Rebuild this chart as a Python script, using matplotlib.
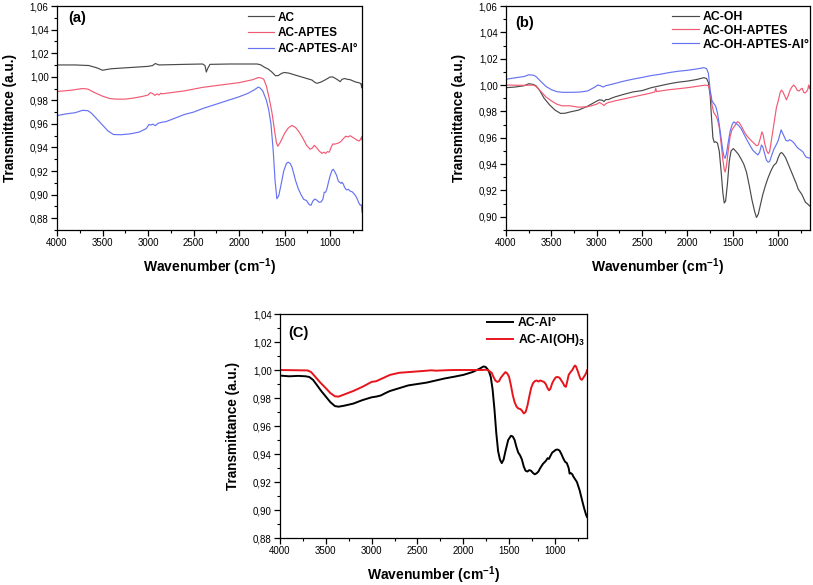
import matplotlib
matplotlib.use("Agg")
import matplotlib.pyplot as plt
from matplotlib.ticker import MultipleLocator, FuncFormatter

plt.rcParams['font.family'] = ['Liberation Sans', 'DejaVu Sans']
plt.rcParams['mathtext.fontset'] = 'custom'
plt.rcParams['mathtext.rm'] = 'Liberation Sans'
plt.rcParams['mathtext.bf'] = 'Liberation Sans:bold'
plt.rcParams['mathtext.it'] = 'Liberation Sans:italic'

# ---------------- Panel (a) ----------------
a_ac_wn = [4000, 3800, 3650, 3560, 3500, 3450, 3400, 3200, 3000, 2950, 2920, 2880, 2600, 2400, 2375,
           2360, 2345, 2320, 2100, 1800, 1760, 1720, 1680, 1640, 1600, 1570, 1530, 1500, 1450, 1400,
           1300, 1200, 1160, 1140, 1100, 1050, 1000, 970, 940, 910, 890, 870, 840, 810, 780, 750, 720,
           690, 670, 660, 652, 650]
a_ac_t = [1.010, 1.010, 1.0095, 1.0075, 1.0055, 1.0062, 1.0068, 1.0078, 1.0088, 1.0095, 1.0112, 1.0100,
          1.0105, 1.0108, 1.0095, 1.0040, 1.0070, 1.0105, 1.0108, 1.0108, 1.0100, 1.0080, 1.0065, 1.0040,
          1.0008, 1.0010, 1.0030, 1.0036, 1.0030, 1.0018, 0.9995, 0.9972, 0.9948, 0.9945, 0.9955, 0.9975,
          0.9998, 0.9998, 0.9985, 0.9970, 0.9958, 0.9978, 0.9985, 0.9978, 0.9975, 0.9965, 0.9955, 0.9950,
          0.9945, 0.9935, 0.9905, 0.9940]

a_apt_wn = [4000, 3850, 3720, 3660, 3600, 3500, 3420, 3350, 3250, 3150, 3050, 3000, 2975, 2950, 2925,
            2900, 2880, 2860, 2840, 2800, 2600, 2400, 2200, 2000, 1850, 1790, 1760, 1730, 1700, 1670,
            1640, 1610, 1590, 1575, 1550, 1500, 1460, 1420, 1380, 1340, 1300, 1260, 1220, 1195, 1175,
            1150, 1120, 1090, 1070, 1050, 1030, 1010, 990, 970, 950, 920, 890, 860, 830, 800, 780, 760,
            740, 720, 700, 680, 665, 655, 650]
a_apt_t = [0.9875, 0.9885, 0.9900, 0.9895, 0.9870, 0.9835, 0.9815, 0.9810, 0.9810, 0.9820, 0.9835,
           0.9845, 0.9865, 0.9858, 0.9842, 0.9855, 0.9845, 0.9860, 0.9855, 0.9860, 0.9880, 0.9910,
           0.9930, 0.9950, 0.9975, 0.9993, 0.9990, 0.9980, 0.9920, 0.9820, 0.9700, 0.9540, 0.9440,
           0.9410, 0.9440, 0.9520, 0.9565, 0.9587, 0.9570, 0.9530, 0.9480, 0.9420, 0.9385, 0.9395,
           0.9418, 0.9400, 0.9370, 0.9350, 0.9360, 0.9350, 0.9365, 0.9360, 0.9400, 0.9430, 0.9428,
           0.9435, 0.9445, 0.9470, 0.9495, 0.9490, 0.9500, 0.9490, 0.9480, 0.9470, 0.9460, 0.9455,
           0.9470, 0.9490, 0.9465]

a_al_wn = [4000, 3900, 3800, 3720, 3660, 3620, 3560, 3500, 3440, 3380, 3300, 3200, 3100, 3020, 2990,
           2970, 2950, 2920, 2890, 2860, 2800, 2700, 2600, 2500, 2400, 2300, 2200, 2100, 2000, 1900,
           1830, 1790, 1770, 1740, 1700, 1675, 1650, 1625, 1605, 1585, 1565, 1540, 1510, 1480, 1460,
           1440, 1420, 1400, 1380, 1350, 1320, 1290, 1260, 1230, 1210, 1190, 1170, 1150, 1120, 1100,
           1080, 1065, 1050, 1035, 1020, 1000, 980, 965, 950, 930, 910, 895, 880, 870, 855, 840, 820,
           800, 780, 760, 740, 720, 700, 685, 670, 660, 655, 650]
a_al_t = [0.9670, 0.9685, 0.9695, 0.9715, 0.9712, 0.9690, 0.9640, 0.9590, 0.9540, 0.9510, 0.9508,
          0.9515, 0.9530, 0.9560, 0.9595, 0.9590, 0.9598, 0.9585, 0.9605, 0.9612, 0.9620, 0.9650,
          0.9680, 0.9700, 0.9730, 0.9755, 0.9780, 0.9805, 0.9830, 0.9860, 0.9890, 0.9912, 0.9905,
          0.9880, 0.9800, 0.9720, 0.9600, 0.9370, 0.9120, 0.8965, 0.8990, 0.9080, 0.9200, 0.9265,
          0.9275, 0.9265, 0.9235, 0.9180, 0.9120, 0.9050, 0.9000, 0.8960, 0.8950, 0.8915, 0.8910,
          0.8945, 0.8962, 0.8955, 0.8935, 0.8938, 0.8960, 0.9020, 0.9020, 0.9050, 0.9100, 0.9160,
          0.9205, 0.9215, 0.9195, 0.9165, 0.9115, 0.9105, 0.9095, 0.9105, 0.9090, 0.9060, 0.9040,
          0.9045, 0.9030, 0.9025, 0.9010, 0.8990, 0.8960, 0.8930, 0.8910, 0.8915, 0.8900, 0.8850]

# ---------------- Panel (b) ----------------
b_oh_wn = [4000, 3900, 3800, 3750, 3700, 3670, 3630, 3580, 3520, 3460, 3400, 3350, 3300, 3200, 3100,
           3000, 2970, 2940, 2920, 2900, 2870, 2840, 2800, 2700, 2600, 2500, 2400, 2300, 2200, 2100,
           2000, 1900, 1820, 1790, 1770, 1750, 1735, 1720, 1705, 1690, 1670, 1650, 1630, 1610, 1595,
           1580, 1560, 1540, 1520, 1495, 1470, 1440, 1410, 1380, 1350, 1320, 1290, 1260, 1240, 1220,
           1200, 1170, 1140, 1110, 1080, 1050, 1020, 1000, 980, 965, 950, 920, 890, 860, 830, 800,
           780, 760, 740, 720, 700, 680, 665, 650]
b_oh_t = [0.9980, 0.9985, 0.9995, 1.0010, 1.0005, 0.9995, 0.9960, 0.9900, 0.9850, 0.9810, 0.9785,
          0.9786, 0.9795, 0.9810, 0.9840, 0.9878, 0.9888, 0.9885, 0.9875, 0.9890, 0.9890, 0.9900,
          0.9910, 0.9930, 0.9948, 0.9958, 0.9980, 0.9995, 1.0010, 1.0022, 1.0030, 1.0042, 1.0056,
          1.0050, 1.0020, 0.9920, 0.9750, 0.9600, 0.9565, 0.9570, 0.9560, 0.9500, 0.9350, 0.9180,
          0.9105, 0.9120, 0.9250, 0.9420, 0.9500, 0.9518, 0.9500, 0.9475, 0.9440, 0.9400, 0.9340,
          0.9240, 0.9130, 0.9040, 0.8995, 0.9020, 0.9080, 0.9170, 0.9240, 0.9300, 0.9350, 0.9390,
          0.9410, 0.9450, 0.9480, 0.9488, 0.9480, 0.9450, 0.9400, 0.9350, 0.9300, 0.9250, 0.9210,
          0.9190, 0.9170, 0.9140, 0.9110, 0.9100, 0.9090, 0.9080]

b_apt_wn = [4000, 3800, 3700, 3670, 3620, 3560, 3500, 3440, 3380, 3300, 3200, 3100, 3000, 2970, 2950,
            2920, 2900, 2870, 2840, 2800, 2700, 2600, 2500, 2400, 2360, 2350, 2340, 2300, 2200, 2100,
            2000, 1900, 1800, 1770, 1750, 1730, 1710, 1690, 1670, 1650, 1630, 1610, 1595, 1585, 1570,
            1550, 1530, 1510, 1480, 1450, 1430, 1400, 1370, 1340, 1300, 1270, 1240, 1220, 1200, 1180,
            1165, 1150, 1130, 1110, 1095, 1080, 1060, 1040, 1020, 1000, 980, 965, 950, 930, 910, 890,
            870, 850, 830, 810, 790, 770, 750, 735, 720, 705, 690, 675, 665, 655, 650]
b_apt_t = [1.0000, 0.9998, 1.0000, 0.9990, 0.9955, 0.9910, 0.9880, 0.9855, 0.9842, 0.9843, 0.9832,
           0.9835, 0.9855, 0.9868, 0.9860, 0.9845, 0.9858, 0.9868, 0.9872, 0.9880, 0.9895, 0.9910,
           0.9925, 0.9940, 0.9948, 0.9975, 0.9950, 0.9955, 0.9965, 0.9972, 0.9980, 0.9990, 1.0000,
           0.9995, 0.9950, 0.9850, 0.9790, 0.9770, 0.9740, 0.9680, 0.9560, 0.9430, 0.9360, 0.9340,
           0.9390, 0.9510, 0.9610, 0.9660, 0.9690, 0.9722, 0.9715, 0.9680, 0.9640, 0.9610, 0.9580,
           0.9560, 0.9540, 0.9545, 0.9590, 0.9645, 0.9620, 0.9560, 0.9505, 0.9480, 0.9495, 0.9560,
           0.9650, 0.9740, 0.9830, 0.9880, 0.9940, 0.9962, 0.9950, 0.9920, 0.9888, 0.9920, 0.9960,
           0.9985, 1.0000, 0.9985, 0.9960, 0.9955, 0.9970, 0.9975, 0.9945, 0.9940, 0.9950, 0.9965,
           1.0000, 0.9975, 0.9990]

b_al_wn = [4000, 3900, 3800, 3750, 3700, 3670, 3620, 3560, 3500, 3440, 3380, 3300, 3200, 3100, 3020,
           2990, 2960, 2930, 2900, 2870, 2800, 2700, 2600, 2500, 2400, 2300, 2200, 2100, 2000, 1900,
           1820, 1790, 1770, 1750, 1730, 1710, 1690, 1670, 1650, 1630, 1610, 1595, 1585, 1570, 1550,
           1530, 1505, 1490, 1470, 1440, 1410, 1380, 1350, 1310, 1280, 1250, 1225, 1205, 1185, 1170,
           1150, 1130, 1110, 1095, 1075, 1050, 1020, 1000, 980, 968, 955, 935, 915, 895, 875, 860, 840,
           820, 800, 780, 760, 740, 725, 710, 695, 680, 665, 650]
b_al_t = [1.0044, 1.0055, 1.0065, 1.0078, 1.0075, 1.0065, 1.0030, 0.9990, 0.9965, 0.9950, 0.9945,
          0.9945, 0.9946, 0.9955, 0.9985, 1.0000, 0.9995, 0.9985, 0.9995, 1.0000, 1.0012, 1.0030,
          1.0045, 1.0058, 1.0072, 1.0082, 1.0095, 1.0105, 1.0112, 1.0122, 1.0132, 1.0125, 1.0090,
          0.9960, 0.9880, 0.9860, 0.9840, 0.9790, 0.9700, 0.9600, 0.9500, 0.9450, 0.9445, 0.9480,
          0.9570, 0.9650, 0.9705, 0.9720, 0.9712, 0.9695, 0.9670, 0.9630, 0.9590, 0.9540, 0.9505,
          0.9485, 0.9470, 0.9490, 0.9545, 0.9530, 0.9480, 0.9430, 0.9415, 0.9420, 0.9460, 0.9510,
          0.9550, 0.9580, 0.9630, 0.9660, 0.9640, 0.9610, 0.9580, 0.9575, 0.9585, 0.9580, 0.9570,
          0.9555, 0.9535, 0.9520, 0.9510, 0.9500, 0.9490, 0.9470, 0.9455, 0.9450, 0.9448, 0.9445]

# ---------------- Panel (c) ----------------
c_al_wn = [4000, 3900, 3800, 3720, 3680, 3640, 3600, 3550, 3500, 3450, 3400, 3360, 3300, 3200, 3100,
           3000, 2950, 2900, 2850, 2800, 2700, 2600, 2500, 2400, 2300, 2200, 2100, 2000, 1900, 1820,
           1780, 1760, 1740, 1720, 1700, 1680, 1660, 1640, 1620, 1600, 1580, 1560, 1540, 1510, 1480,
           1460, 1440, 1420, 1400, 1380, 1360, 1340, 1320, 1300, 1280, 1260, 1240, 1220, 1200, 1180,
           1160, 1130, 1100, 1080, 1065, 1050, 1030, 1010, 990, 970, 950, 930, 910, 890, 870, 850,
           840, 830, 810, 800, 760, 730, 700, 680, 660, 650]
c_al_t = [0.9960, 0.9955, 0.9958, 0.9955, 0.9950, 0.9930, 0.9895, 0.9850, 0.9810, 0.9770, 0.9742,
          0.9738, 0.9745, 0.9760, 0.9785, 0.9805, 0.9810, 0.9818, 0.9835, 0.9850, 0.9870, 0.9890,
          0.9900, 0.9910, 0.9925, 0.9940, 0.9952, 0.9965, 0.9985, 1.0010, 1.0025, 1.0023, 1.0010,
          0.9990, 0.9950, 0.9860, 0.9720, 0.9550, 0.9420, 0.9360, 0.9335, 0.9360, 0.9420, 0.9500,
          0.9530, 0.9525, 0.9500, 0.9450, 0.9410, 0.9390, 0.9360, 0.9310, 0.9280, 0.9275, 0.9285,
          0.9280, 0.9265, 0.9255, 0.9262, 0.9275, 0.9300, 0.9330, 0.9350, 0.9370, 0.9365, 0.9385,
          0.9410, 0.9420, 0.9430, 0.9432, 0.9425, 0.9400, 0.9370, 0.9345, 0.9335, 0.9300, 0.9260,
          0.9265, 0.9255, 0.9240, 0.9200, 0.9140, 0.9060, 0.9010, 0.8965, 0.8950]

c_oh_wn = [4000, 3800, 3700, 3660, 3620, 3560, 3500, 3450, 3400, 3360, 3300, 3200, 3100, 3000, 2950,
           2900, 2800, 2700, 2600, 2500, 2400, 2350, 2300, 2200, 2100, 2000, 1900, 1800, 1750, 1720,
           1690, 1670, 1650, 1630, 1610, 1590, 1560, 1540, 1520, 1500, 1480, 1460, 1440, 1420, 1400,
           1380, 1360, 1340, 1320, 1300, 1280, 1260, 1240, 1220, 1200, 1180, 1160, 1140, 1120, 1100,
           1080, 1065, 1050, 1030, 1010, 990, 970, 950, 930, 910, 895, 880, 865, 850, 830, 810, 790,
           780, 770, 750, 735, 720, 705, 690, 670, 655, 650]
c_oh_t = [1.0000, 0.9998, 0.9997, 0.9985, 0.9955, 0.9910, 0.9870, 0.9835, 0.9812, 0.9810, 0.9825,
          0.9850, 0.9880, 0.9915, 0.9920, 0.9935, 0.9965, 0.9980, 0.9985, 0.9990, 0.9995, 0.9998,
          0.9995, 0.9998, 1.0000, 1.0000, 1.0000, 1.0000, 1.0002, 0.9995, 0.9980, 0.9950, 0.9925,
          0.9915, 0.9920, 0.9945, 0.9970, 0.9985, 0.9975, 0.9950, 0.9890, 0.9820, 0.9770, 0.9740,
          0.9725, 0.9722, 0.9710, 0.9690, 0.9700, 0.9745, 0.9810, 0.9870, 0.9905, 0.9920, 0.9925,
          0.9918, 0.9925, 0.9920, 0.9915, 0.9900, 0.9870, 0.9855, 0.9865, 0.9905, 0.9930, 0.9948,
          0.9950, 0.9945, 0.9925, 0.9905, 0.9885, 0.9880, 0.9920, 0.9965, 0.9985, 1.0000, 1.0025,
          1.0032, 1.0025, 0.9990, 0.9960, 0.9935, 0.9930, 0.9945, 0.9965, 0.9985, 0.9998]

labels_a = ["AC", "AC-APTES", "AC-APTES-Al°"]
labels_b = ["AC-OH", "AC-OH-APTES", "AC-OH-APTES-Al°"]
labels_c = ["AC-Al°", r"AC-Al(OH)$_\mathbf{3}$"]
xticks = [4000, 3500, 3000, 2500, 2000, 1500, 1000]

GRAY = "#4a4a4a"
PINK = "#f25a74"
BLUE = "#6673f2"

W, H = 813, 585
fig = plt.figure(figsize=(W / 100, H / 100), dpi=100)


def make_axes(l, t, r, b):
    return fig.add_axes([l / W, 1 - b / H, (r - l) / W, (b - t) / H])


comma = FuncFormatter(lambda v, p: f"{v:.2f}".replace(".", ","))


def style(ax, ylo, yhi, panel, px, py):
    ax.set_xlim(4000, 650)
    ax.set_ylim(ylo, yhi)
    ax.set_xticks(xticks)
    ax.xaxis.set_minor_locator(MultipleLocator(250))
    ax.yaxis.set_major_locator(MultipleLocator(0.02))
    ax.yaxis.set_minor_locator(MultipleLocator(0.01))
    ax.yaxis.set_major_formatter(comma)
    ax.tick_params(which='major', direction='out', length=4, width=0.9, labelsize=7, pad=2)
    ax.tick_params(which='minor', direction='out', length=2.2, width=0.8)
    for s in ax.spines.values():
        s.set_linewidth(0.9)
    ax.set_xlabel(r"Wavenumber (cm$^{\mathbf{-1}}$)", fontsize=10, fontweight='bold', labelpad=6)
    ax.set_ylabel("Transmittance (a.u.)", fontsize=9.8, fontweight='bold', labelpad=9)
    ax.text(px, py, panel, transform=ax.transAxes, fontsize=10.5, fontweight='bold',
            ha='left', va='center')


# (a)
ax1 = make_axes(57, 6, 362, 230)
ax1.plot(a_ac_wn, a_ac_t, color=GRAY, lw=0.85, label=labels_a[0])
ax1.plot(a_apt_wn, a_apt_t, color=PINK, lw=0.85, label=labels_a[1])
ax1.plot(a_al_wn, a_al_t, color=BLUE, lw=0.85, label=labels_a[2])
style(ax1, 0.87, 1.06, "(a)", 0.036, 0.945)
leg = ax1.legend(loc='upper left', bbox_to_anchor=(0.625, 0.975), frameon=False, fontsize=8.5,
                 handlelength=2.2, handletextpad=0.35, labelspacing=0.32, borderpad=0, borderaxespad=0)
for t in leg.get_texts():
    t.set_fontweight('bold')

# (b)
ax2 = make_axes(506, 6, 810, 230)
ax2.plot(b_oh_wn, b_oh_t, color=GRAY, lw=0.85, label=labels_b[0])
ax2.plot(b_apt_wn, b_apt_t, color=PINK, lw=0.85, label=labels_b[1])
ax2.plot(b_al_wn, b_al_t, color=BLUE, lw=0.85, label=labels_b[2])
style(ax2, 0.89, 1.06, "(b)", 0.03, 0.925)
leg = ax2.legend(loc='upper left', bbox_to_anchor=(0.546, 0.978), frameon=False, fontsize=8.8,
                 handlelength=2.2, handletextpad=0.35, labelspacing=0.15, borderpad=0, borderaxespad=0)
for t in leg.get_texts():
    t.set_fontweight('bold')

# (c)
ax3 = make_axes(280, 314, 587, 538)
ax3.plot(c_al_wn, c_al_t, color="#000000", lw=1.4, label=labels_c[0])
ax3.plot(c_oh_wn, c_oh_t, color="#e8141c", lw=1.4, label=labels_c[1])
style(ax3, 0.88, 1.04, "(C)", 0.026, 0.915)
leg = ax3.legend(loc='upper left', bbox_to_anchor=(0.673, 0.985), frameon=False, fontsize=8.8,
                 handlelength=2.2, handletextpad=0.35, labelspacing=0.25, borderpad=0, borderaxespad=0)
for t in leg.get_texts():
    t.set_fontweight('bold')

fig.savefig("out.png", dpi=100)
